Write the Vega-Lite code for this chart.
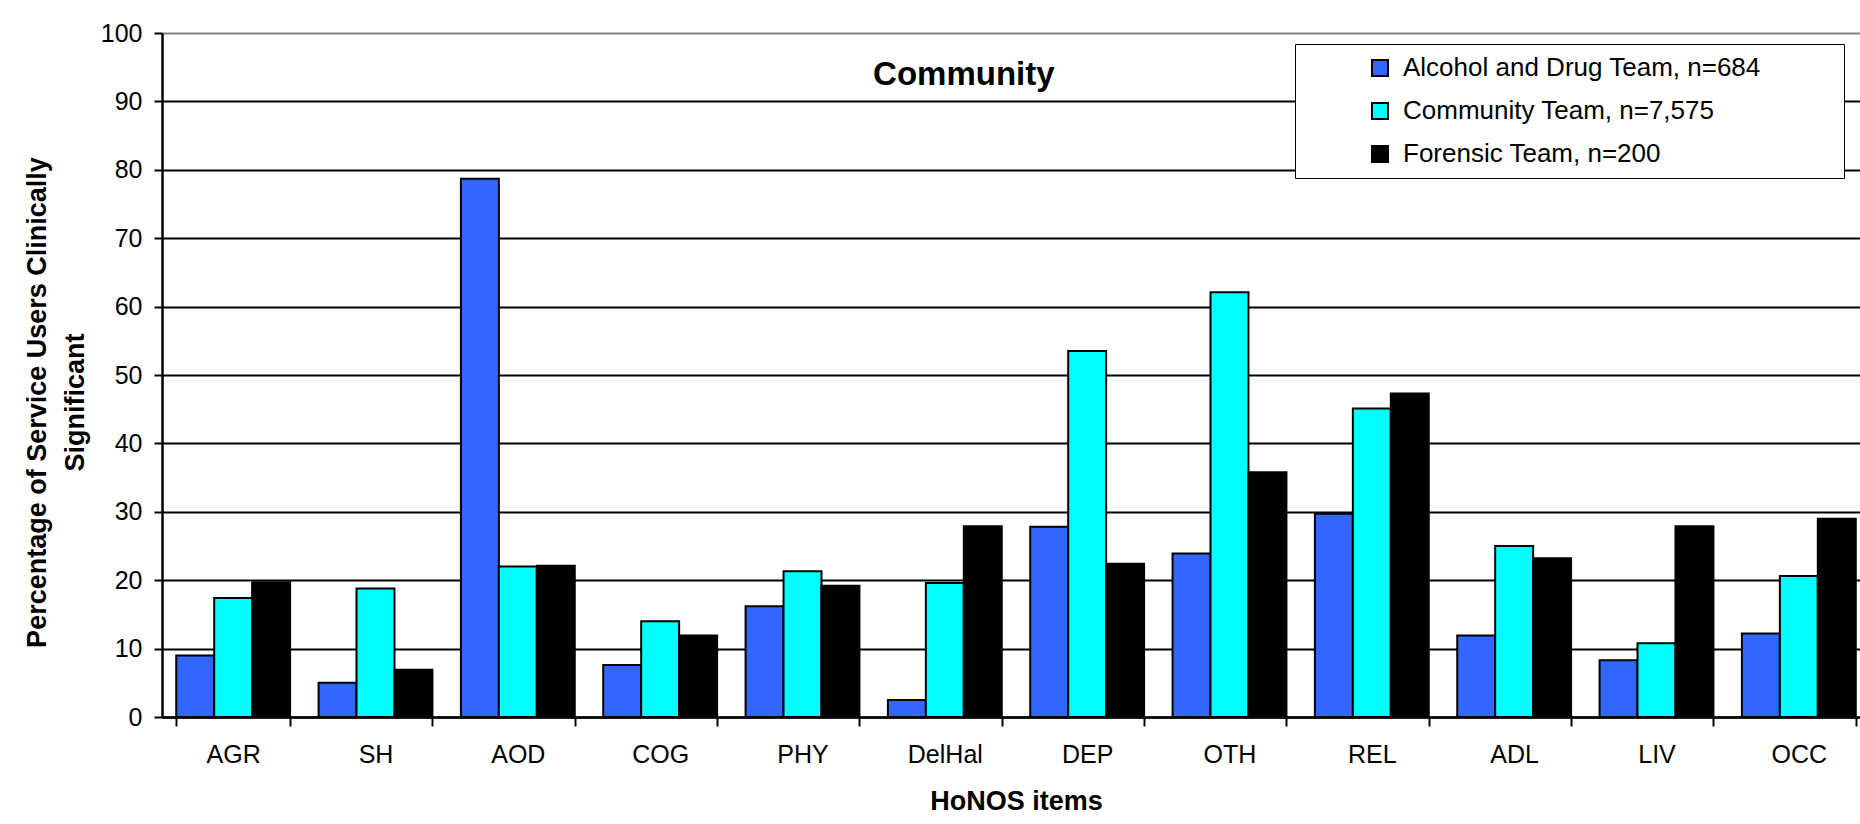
{
  "$schema": "https://vega.github.io/schema/vega-lite/v6.json",
  "width": 1698,
  "height": 684,
  "autosize": {"type": "none"},
  "padding": {"left": 162, "top": 33, "right": 0, "bottom": 107},
  "background": "white",
  "config": {"font": "Liberation Sans", "view": {"stroke": null}},
  "datasets": {
    "bars": [
      {"item": "AGR", "team": "Alcohol and Drug Team, n=684", "pct": 9.0},
      {"item": "AGR", "team": "Community Team, n=7,575", "pct": 17.4},
      {"item": "AGR", "team": "Forensic Team, n=200", "pct": 19.7},
      {"item": "SH", "team": "Alcohol and Drug Team, n=684", "pct": 5.0},
      {"item": "SH", "team": "Community Team, n=7,575", "pct": 18.8},
      {"item": "SH", "team": "Forensic Team, n=200", "pct": 6.9},
      {"item": "AOD", "team": "Alcohol and Drug Team, n=684", "pct": 78.7},
      {"item": "AOD", "team": "Community Team, n=7,575", "pct": 22.0},
      {"item": "AOD", "team": "Forensic Team, n=200", "pct": 22.1},
      {"item": "COG", "team": "Alcohol and Drug Team, n=684", "pct": 7.6},
      {"item": "COG", "team": "Community Team, n=7,575", "pct": 14.0},
      {"item": "COG", "team": "Forensic Team, n=200", "pct": 11.9},
      {"item": "PHY", "team": "Alcohol and Drug Team, n=684", "pct": 16.2},
      {"item": "PHY", "team": "Community Team, n=7,575", "pct": 21.3},
      {"item": "PHY", "team": "Forensic Team, n=200", "pct": 19.2},
      {"item": "DelHal", "team": "Alcohol and Drug Team, n=684", "pct": 2.5},
      {"item": "DelHal", "team": "Community Team, n=7,575", "pct": 19.6},
      {"item": "DelHal", "team": "Forensic Team, n=200", "pct": 27.9},
      {"item": "DEP", "team": "Alcohol and Drug Team, n=684", "pct": 27.8},
      {"item": "DEP", "team": "Community Team, n=7,575", "pct": 53.5},
      {"item": "DEP", "team": "Forensic Team, n=200", "pct": 22.4},
      {"item": "OTH", "team": "Alcohol and Drug Team, n=684", "pct": 23.9},
      {"item": "OTH", "team": "Community Team, n=7,575", "pct": 62.1},
      {"item": "OTH", "team": "Forensic Team, n=200", "pct": 35.8},
      {"item": "REL", "team": "Alcohol and Drug Team, n=684", "pct": 29.7},
      {"item": "REL", "team": "Community Team, n=7,575", "pct": 45.1},
      {"item": "REL", "team": "Forensic Team, n=200", "pct": 47.3},
      {"item": "ADL", "team": "Alcohol and Drug Team, n=684", "pct": 11.9},
      {"item": "ADL", "team": "Community Team, n=7,575", "pct": 25.0},
      {"item": "ADL", "team": "Forensic Team, n=200", "pct": 23.2},
      {"item": "LIV", "team": "Alcohol and Drug Team, n=684", "pct": 8.3},
      {"item": "LIV", "team": "Community Team, n=7,575", "pct": 10.8},
      {"item": "LIV", "team": "Forensic Team, n=200", "pct": 27.9},
      {"item": "OCC", "team": "Alcohol and Drug Team, n=684", "pct": 12.2},
      {"item": "OCC", "team": "Community Team, n=7,575", "pct": 20.6},
      {"item": "OCC", "team": "Forensic Team, n=200", "pct": 29.0}
    ],
    "heading": [
      {"label": "Community", "item": "DelHal", "pct": 92.4}
    ]
  },
  "layer": [
    {
      "data": {"name": "bars"},
      "mark": {"type": "bar", "stroke": "black", "strokeWidth": 2},
      "encoding": {
        "x": {
          "field": "item", "type": "nominal",
          "sort": ["AGR", "SH", "AOD", "COG", "PHY", "DelHal", "DEP", "OTH", "REL", "ADL", "LIV", "OCC"],
          "scale": {"domain": ["AGR", "SH", "AOD", "COG", "PHY", "DelHal", "DEP", "OTH", "REL", "ADL", "LIV", "OCC"], "range": [0, 1708], "paddingInner": 0.2, "paddingOuter": 0.1},
          "axis": {
            "title": "HoNOS items", "titleFontSize": 27, "titleFontWeight": "bold", "titleColor": "black", "titlePadding": 21,
            "labelAngle": 0, "labelFontSize": 25, "labelColor": "black", "labelPadding": 16,
            "tickBand": "extent", "tickSize": 9, "tickWidth": 2, "tickColor": "black",
            "domainColor": "black", "domainWidth": 2.5
          }
        },
        "xOffset": {
          "field": "team", "type": "nominal",
          "sort": ["Alcohol and Drug Team, n=684", "Community Team, n=7,575", "Forensic Team, n=200"],
          "scale": {"paddingInner": 0, "paddingOuter": 0}
        },
        "y": {
          "field": "pct", "type": "quantitative",
          "scale": {"domain": [0, 100]},
          "axis": {
            "title": ["Percentage of Service Users Clinically", "Significant"],
            "titleFontSize": 27, "titleFontWeight": "bold", "titleLineHeight": 38, "titleColor": "black",
            "titleX": -125, "titleY": 369, "titleBaseline": "middle", "titleAlign": "center", "titleAngle": -90,
            "values": [0, 10, 20, 30, 40, 50, 60, 70, 80, 90, 100],
            "grid": true,
            "gridColor": {"condition": {"test": "datum.value === 100", "value": "#808080"}, "value": "black"},
            "gridWidth": 2,
            "domainColor": "black", "domainWidth": 2.5,
            "tickColor": "black", "tickWidth": 2, "tickSize": 8,
            "labelFontSize": 25, "labelColor": "black", "labelPadding": 12
          }
        },
        "color": {
          "field": "team", "type": "nominal",
          "scale": {
            "domain": ["Alcohol and Drug Team, n=684", "Community Team, n=7,575", "Forensic Team, n=200"],
            "range": ["#3366FF", "#00FFFF", "#000000"]
          },
          "legend": {
            "title": null, "orient": "none", "legendX": 1133, "legendY": 11, "direction": "vertical",
            "symbolType": "square", "symbolSize": 256, "symbolStrokeColor": "black", "symbolStrokeWidth": 2,
            "labelFontSize": 26, "labelColor": "black", "labelOffset": 10, "labelLimit": 900,
            "labelExpr": "datum.label + '\u00a0\u00a0\u00a0\u00a0\u00a0\u00a0\u00a0\u00a0\u00a0\u00a0\u200b'",
            "rowPadding": 17, "padding": 11, "symbolOffset": 61,
            "strokeColor": "black", "fillColor": "white"
          }
        }
      }
    },
    {
      "data": {"name": "heading"},
      "mark": {"type": "text", "fontSize": 33, "fontWeight": "bold", "color": "black", "align": "center", "baseline": "alphabetic", "dx": 19},
      "encoding": {
        "text": {"field": "label", "type": "nominal"},
        "x": {"field": "item", "type": "nominal", "sort": ["AGR", "SH", "AOD", "COG", "PHY", "DelHal", "DEP", "OTH", "REL", "ADL", "LIV", "OCC"]},
        "y": {"field": "pct", "type": "quantitative"}
      }
    }
  ]
}
